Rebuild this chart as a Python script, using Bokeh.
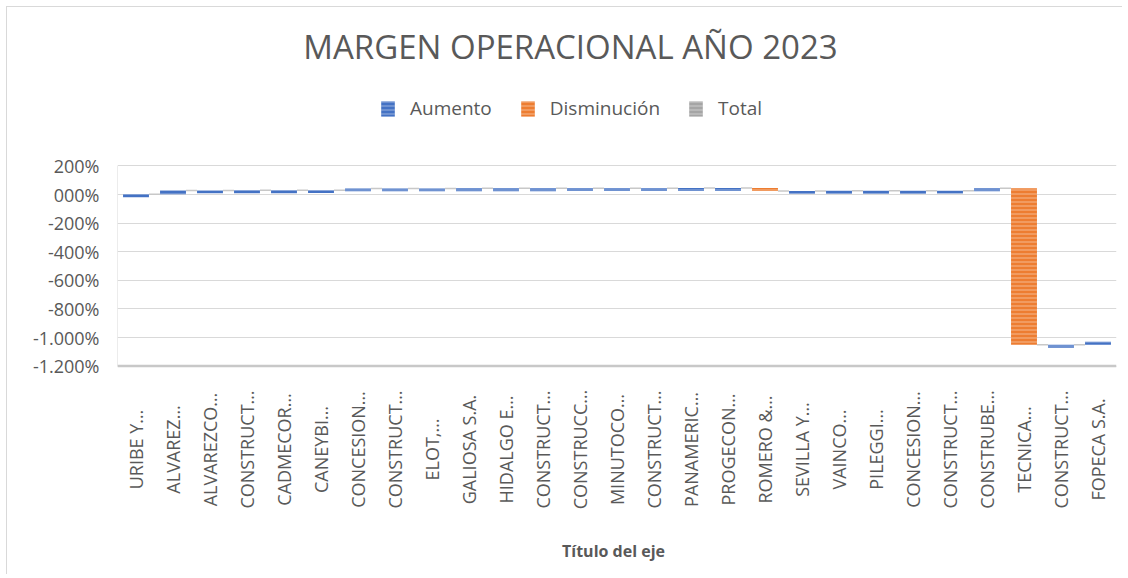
import numpy as np
from math import pi
from bokeh.plotting import figure
from bokeh.models import (Range1d, FixedTicker, Label, Legend, LegendItem,
                          ColumnDataSource)
from bokeh.core.properties import value
from bokeh.embed import file_html
from bokeh.resources import INLINE

# ---------------- data ----------------
companies = ["URIBE Y…", "ALVAREZ…", "ALVAREZCO…", "CONSTRUCT…", "CADMECOR…",
             "CANEYBI…", "CONCESION…", "CONSTRUCT…", "ELOT,…", "GALIOSA S.A.",
             "HIDALGO E…", "CONSTRUCT…", "CONSTRUCC…", "MINUTOCO…", "CONSTRUCT…",
             "PANAMERIC…", "PROGECON…", "ROMERO &…", "SEVILLA Y…", "VAINCO…",
             "PILEGGI…", "CONCESION…", "CONSTRUCT…", "CONSTRUBE…", "TECNICA…",
             "CONSTRUCT…", "FOPECA S.A."]
values = [0.01, 0.27, 0.005, 0.004, 0.006, 0.005, 0.12, 0.003, 0.004, 0.002,
          0.003, 0.004, 0.003, 0.002, 0.003, 0.004, 0.003, -0.20, 0.002, 0.003,
          0.002, 0.003, 0.004, 0.17, -10.95, 0.005, 0.21]
y_ticks = [2, 0, -2, -4, -6, -8, -10, -12]
y_tick_labels = ["200%", "000%", "-200%", "-400%", "-600%", "-800%", "-1.000%", "-1.200%"]
legend_labels = ["Aumento", "Disminución", "Total"]
title_text = "MARGEN OPERACIONAL AÑO 2023"
x_title = "Título del eje"

# ---------------- styling / layout ----------------
BLUE = "#4472c4"
ORANGE = "#ed7d31"
GRAY = "#a5a5a5"
TXT = "#595959"
FONT = "Open Sans"
BAR_W = 0.7
MIN_H = 0.2          # minimum drawn thickness of a step (data units)
OFF = 7              # canvas offset inside the page (chart-area border)
W, H = 1116, 568
LEFT = 117 - OFF     # frame left edge in canvas px
PX_PER_UNIT = 14.3   # pixels per 100 %
ZERO_PX = 194.0 - OFF  # canvas row of the 0 line
Y_TOP = ZERO_PX / PX_PER_UNIT
Y_BOT = (ZERO_PX - H) / PX_PER_UNIT
N = len(companies)
X_MIN, X_MAX = 0, N

vals = np.array(values, dtype=float)
xs = np.arange(N) + 0.5
ends = np.cumsum(vals)
starts = ends - vals
tops = np.maximum(starts, ends)
bots = np.minimum(np.minimum(starts, ends), tops - MIN_H)

inc = vals >= 0
src_inc = ColumnDataSource(dict(x=xs[inc], top=tops[inc], bottom=bots[inc]))
src_dec = ColumnDataSource(dict(x=xs[~inc], top=tops[~inc], bottom=bots[~inc]))
# no total bars in this chart: a single NaN row so that the legend still draws its swatch
src_tot = ColumnDataSource(dict(x=[np.nan], top=[np.nan], bottom=[np.nan]))

p = figure(width=W, height=H, x_range=Range1d(X_MIN, X_MAX), y_range=Range1d(Y_BOT, Y_TOP),
           output_backend="svg", toolbar_location=None, x_axis_location=None,
           min_border_left=LEFT, min_border_right=W - LEFT - 999, min_border_top=0,
           min_border_bottom=0,
           styles={"margin-left": f"{OFF - 1}px", "margin-top": f"{OFF - 1}px",
                   "border-left": "1px solid #d9d9d9", "border-top": "1px solid #d9d9d9"})
p.outline_line_color = None
p.background_fill_color = "white"
p.border_fill_color = "white"
p.xgrid.grid_line_color = None
p.xgrid.visible = False

# axis frame lines
p.segment(x0=[X_MIN], x1=[X_MIN], y0=[y_ticks[-1]], y1=[y_ticks[0]],
          line_color="#d9d9d9", line_width=1)
p.segment(x0=[X_MIN], x1=[X_MAX], y0=[y_ticks[-1]], y1=[y_ticks[-1]],
          line_color="#c8c8c8", line_width=2.5)

# connectors
p.segment(x0=xs[:-1] + BAR_W / 2, x1=xs[1:] - BAR_W / 2, y0=ends[:-1], y1=ends[:-1],
          line_color="#c8c8c8", line_width=1.5)

hatch = dict(hatch_pattern="horizontal_line", hatch_color="white", hatch_alpha=0.45,
             hatch_scale=4, hatch_weight=1)
r_inc = p.vbar(x="x", top="top", bottom="bottom", width=BAR_W, source=src_inc,
               fill_color=BLUE, line_color=None, **hatch)
r_dec = p.vbar(x="x", top="top", bottom="bottom", width=BAR_W, source=src_dec,
               fill_color=ORANGE, line_color=None, **hatch)
r_tot = p.vbar(x="x", top="top", bottom="bottom", width=BAR_W, source=src_tot,
               fill_color=GRAY, line_color=None, **hatch)

# y axis
p.yaxis.ticker = FixedTicker(ticks=y_ticks)
p.yaxis.major_label_overrides = {t: l for t, l in zip(y_ticks, y_tick_labels)}
p.yaxis.major_tick_line_color = None
p.yaxis.minor_tick_line_color = None
p.yaxis.axis_line_color = None
p.yaxis.major_label_text_font = FONT
p.yaxis.major_label_text_font_size = "18px"
p.yaxis.major_label_text_color = TXT
p.yaxis.major_label_standoff = 12
p.ygrid.ticker = FixedTicker(ticks=y_ticks)
p.ygrid.grid_line_color = "#d9d9d9"
p.ygrid.grid_line_width = 1

# category labels (vertical, centred under each bar)
LABEL_Y = (ZERO_PX - (449 - OFF)) / PX_PER_UNIT
p.text(x=xs, y=[LABEL_Y] * N, text=companies, angle=pi / 2,
       text_align="center", text_baseline="middle", text_font=value(FONT),
       text_font_size="18px", text_color=TXT)

# title
p.add_layout(Label(x=570 - OFF - LEFT, y=H - (46 - OFF), x_units="screen", y_units="screen",
                   text=title_text, text_align="center", text_baseline="middle",
                   text_font=FONT, text_font_size="33px", text_color=TXT))
# x axis title
p.add_layout(Label(x=613 - OFF - LEFT, y=H - (550 - OFF), x_units="screen", y_units="screen",
                   text=x_title, text_align="center", text_baseline="middle",
                   text_font=FONT, text_font_size="16px", text_font_style="bold",
                   text_color=TXT))

legend = Legend(items=[LegendItem(label=legend_labels[0], renderers=[r_inc]),
                       LegendItem(label=legend_labels[1], renderers=[r_dec]),
                       LegendItem(label=legend_labels[2], renderers=[r_tot])],
                orientation="horizontal", location=(379 - OFF - LEFT, H - (121 - OFF)),
                background_fill_alpha=0, border_line_color=None,
                label_text_font=FONT, label_text_font_size="19px", label_text_color=TXT,
                glyph_width=17, glyph_height=19, spacing=27, label_standoff=14,
                padding=0, margin=0)
p.add_layout(legend, "center")

open("out.html", "w").write(file_html(p, INLINE))
